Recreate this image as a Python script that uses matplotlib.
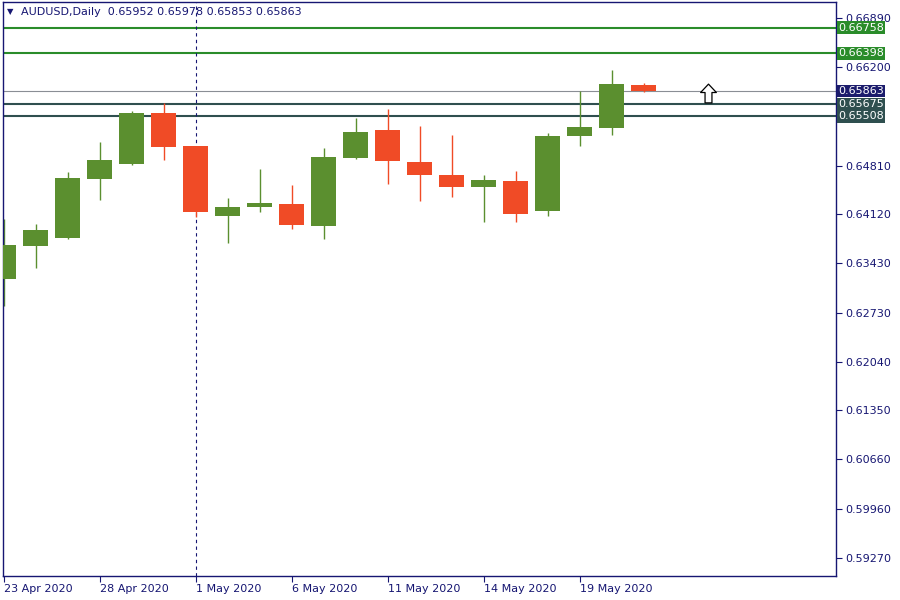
import numpy as np
import matplotlib
matplotlib.use('Agg')
from matplotlib import pyplot as plt
from matplotlib.path import Path
import matplotlib.transforms as mtransforms

# daily AUDUSD bars
dates = ['23 Apr 2020', '24 Apr 2020', '27 Apr 2020', '28 Apr 2020', '29 Apr 2020',
         '30 Apr 2020', '1 May 2020', '4 May 2020', '5 May 2020', '6 May 2020',
         '7 May 2020', '8 May 2020', '11 May 2020', '12 May 2020', '13 May 2020',
         '14 May 2020', '15 May 2020', '18 May 2020', '19 May 2020', '20 May 2020',
         '21 May 2020']
opens = [0.63208, 0.63679, 0.63792, 0.64621, 0.64833, 0.65554, 0.65088, 0.64099,
         0.64226, 0.64268, 0.63957, 0.64918, 0.65314, 0.64862, 0.64678, 0.64508,
         0.64593, 0.64169, 0.65229, 0.65346, 0.65952]
highs = [0.64056, 0.63985, 0.64720, 0.65144, 0.65582, 0.65695, 0.65090, 0.64353,
         0.64763, 0.64537, 0.65060, 0.65483, 0.65611, 0.65370, 0.65243, 0.64678,
         0.64734, 0.65272, 0.65865, 0.66162, 0.65978]
lows = [0.62827, 0.63368, 0.63780, 0.64325, 0.64820, 0.64890, 0.64089, 0.63721,
        0.64155, 0.63915, 0.63773, 0.64904, 0.64551, 0.64311, 0.64371, 0.64018,
        0.64018, 0.64099, 0.65088, 0.65243, 0.65853]
closes = [0.63689, 0.63901, 0.64636, 0.64890, 0.65554, 0.65078, 0.64155, 0.64226,
          0.64282, 0.63971, 0.64932, 0.65286, 0.64876, 0.64678, 0.64508, 0.64607,
          0.64127, 0.65229, 0.65356, 0.65964, 0.65863]

# price axis ticks
yticks = [0.66890, 0.66200, 0.64810, 0.64120, 0.63430, 0.62730, 0.62040,
          0.61350, 0.60660, 0.59960, 0.59270]

# horizontal levels
green_levels = [0.66758, 0.66398]
slate_levels = [0.65675, 0.65508]
bid = 0.65863

# period separator and arrow object
separator_bar = 6
arrow_bar = 22
arrow_price = 0.65833

navy = '#161672'
up_col = '#5B8F2F'
dn_col = '#F04B26'
lvl_green = '#2A8C2A'
slate = '#2F4F4F'

fig = plt.figure(figsize=(9, 6), dpi=100)
ax = fig.add_axes([3/900, 24/600, 833/900, 574/600])

x = np.arange(len(dates))
o = np.array(opens); h = np.array(highs); l = np.array(lows); c = np.array(closes)
cols = [up_col if cc >= oo else dn_col for oo, cc in zip(o, c)]

# levels under the candles
for v in green_levels:
    ax.axhline(v, color=lvl_green, lw=1.5, zorder=1)
for v in slate_levels:
    ax.axhline(v, color=slate, lw=1.5, zorder=1)
ax.axhline(bid, color='#8A8E95', lw=0.8, zorder=1)
ax.axvline(separator_bar, color=navy, lw=0.8, ls=(0, (3, 3)), zorder=1)

ax.vlines(x, l, h, colors=cols, lw=1.0, zorder=2)
ax.bar(x, np.abs(c - o), bottom=np.minimum(o, c), width=0.78, color=cols,
       zorder=3, linewidth=0)

# hollow up arrow
arrow = Path([(0, 9.5), (8, 1), (3.5, 1), (3.5, -9.5), (-3.5, -9.5),
              (-3.5, 1), (-8, 1), (0, 9.5)], closed=True)
ax.plot([arrow_bar], [arrow_price], marker=arrow, markersize=13.5,
        markerfacecolor='white', markeredgecolor='black', markeredgewidth=0.9,
        linestyle='none', zorder=4)

ax.set_xlim(-0.02, 26.0)
ax.set_ylim(0.59011, 0.67123)

ax.yaxis.tick_right()
ax.set_yticks(yticks)
ax.set_yticklabels([f'{v:.5f}' for v in yticks])
ax.set_xticks(x[::3])
ax.set_xticklabels(dates[::3], ha='left')
ax.tick_params(colors=navy, labelcolor=navy, labelsize=8, length=4, width=0.8,
               pad=3)
ax.tick_params(axis='x', pad=2)
for s in ax.spines.values():
    s.set_color(navy)
    s.set_linewidth(1.0)

# boxed price labels on the right scale
tr = mtransforms.blended_transform_factory(ax.transAxes, ax.transData)
for v in green_levels:
    ax.text(1.0025, v, f'{v:.5f}', transform=tr, color='white', fontsize=8,
            va='center', ha='left',
            bbox=dict(boxstyle='square,pad=0.12', fc=lvl_green, ec='none'))
for v in slate_levels:
    ax.text(1.0025, v, f'{v:.5f}', transform=tr, color='white', fontsize=8,
            va='center', ha='left',
            bbox=dict(boxstyle='square,pad=0.12', fc=slate, ec='none'))
ax.text(1.0025, bid, f'{bid:.5f}', transform=tr, color='white', fontsize=8,
        va='center', ha='left',
        bbox=dict(boxstyle='square,pad=0.12', fc='#1C1C6C', ec='none'))

# header
fig.text(7/900, 1 - 12/600, '\u25BC', color=navy, fontsize=6, va='center')
fig.text(21/900, 1 - 12/600,
         f'AUDUSD,Daily  {opens[-1]:.5f} {highs[-1]:.5f} {lows[-1]:.5f} {closes[-1]:.5f}',
         color=navy, fontsize=8, va='center')

plt.savefig('out.png', dpi=100)
